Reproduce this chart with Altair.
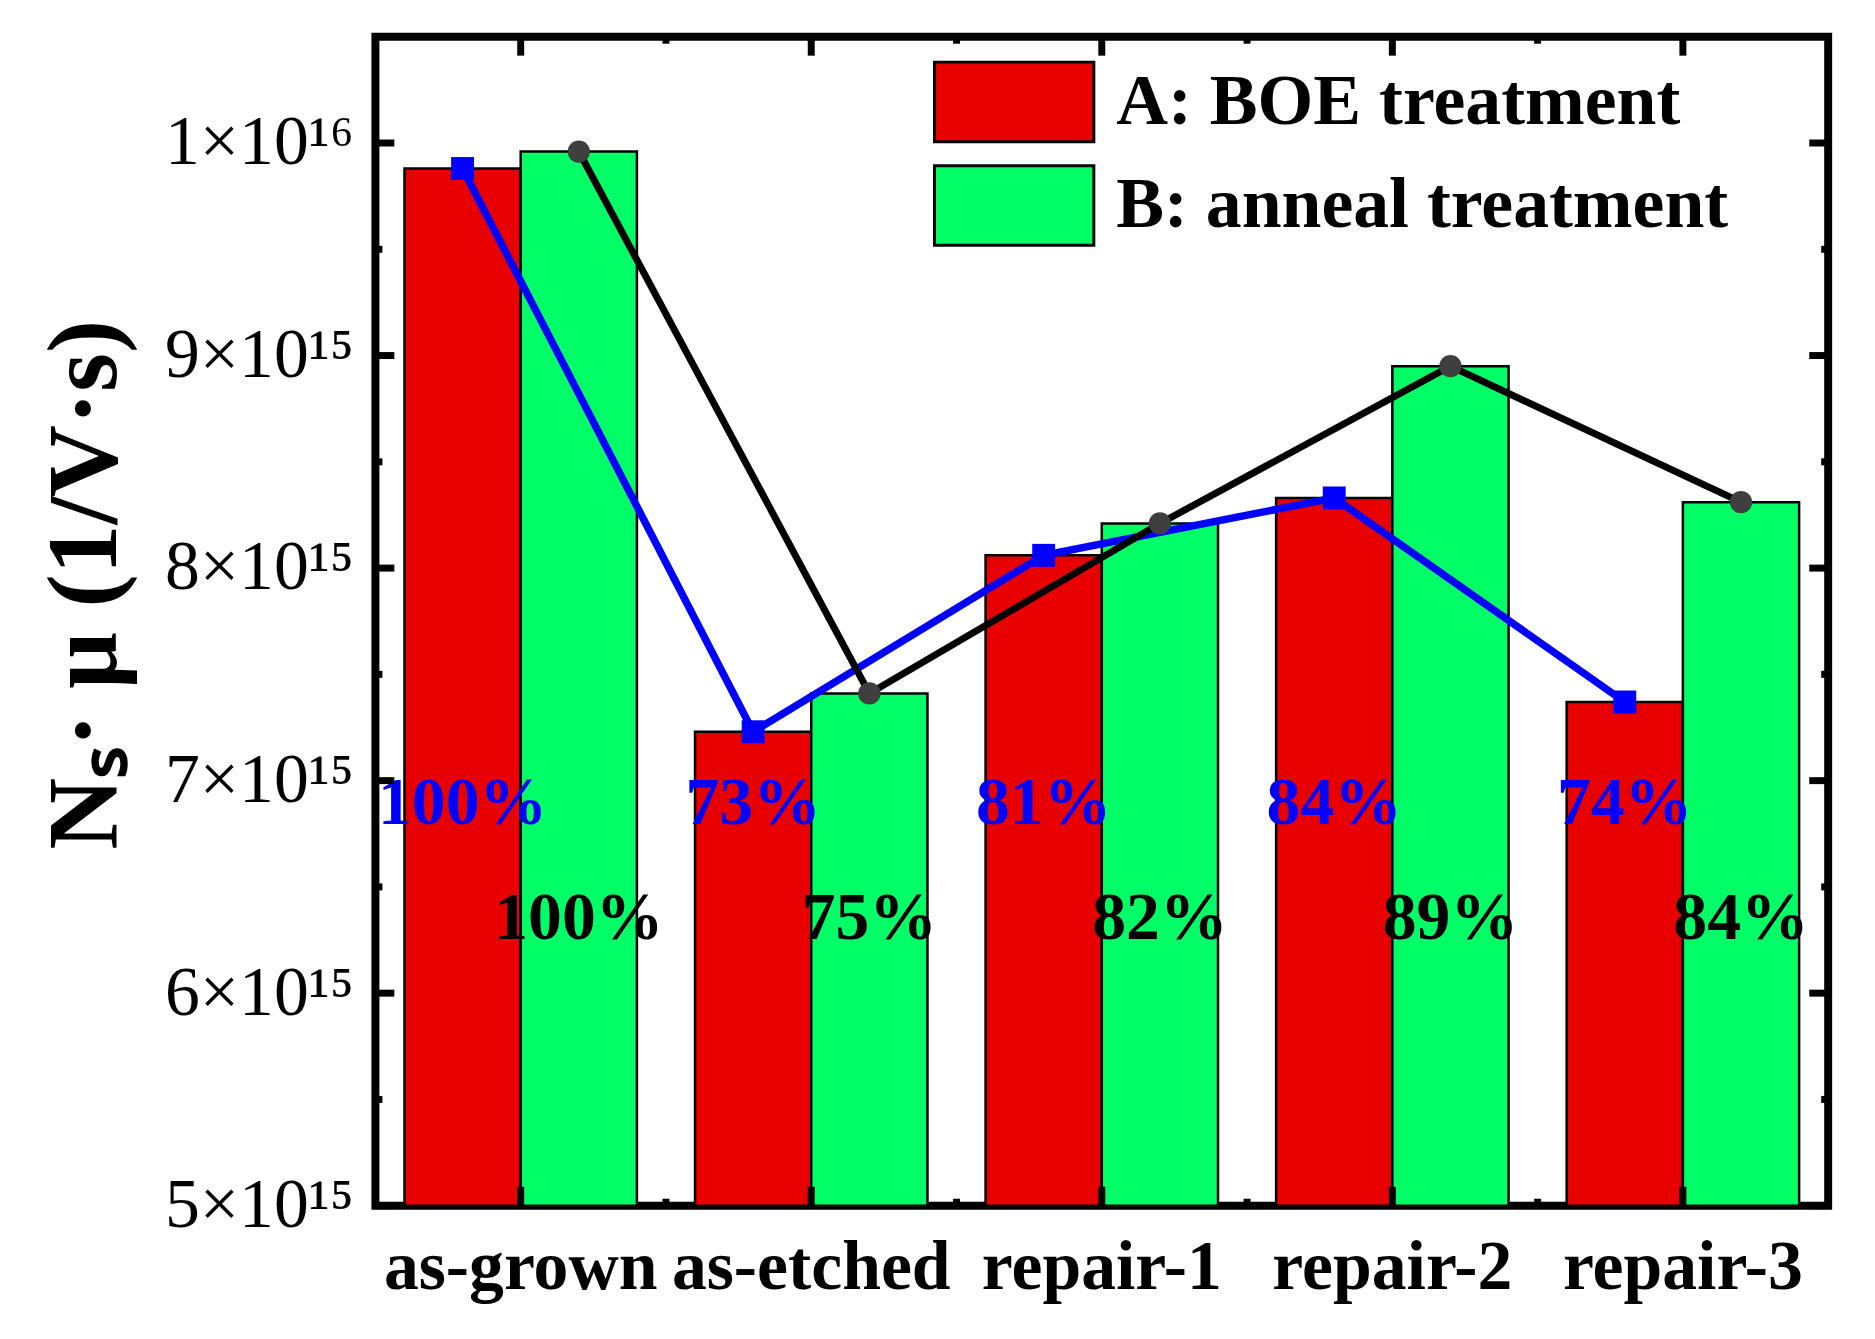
import altair as alt
import pandas as pd

# values
stages = ["as-grown", "as-etched", "repair-1", "repair-2", "repair-3"]
boe_vals = [9.88e15, 7.23e15, 8.06e15, 8.33e15, 7.37e15]
anneal_vals = [9.96e15, 7.41e15, 8.21e15, 8.95e15, 8.31e15]
boe_pct = ["100%", "73%", "81%", "84%", "74%"]
anneal_pct = ["100%", "75%", "82%", "89%", "84%"]
series = ["A: BOE treatment", "B: anneal treatment"]
bar_colors = ["#E80000", "#00FF66"]
major_y = [5e15, 6e15, 7e15, 8e15, 9e15, 1e16]
minor_y = [5.5e15, 6.5e15, 7.5e15, 8.5e15, 9.5e15]

W, H = 1459, 1174
FONT = "Liberation Serif"

bars = pd.DataFrame({
    "stage": stages * 2,
    "series": [series[0]] * 5 + [series[1]] * 5,
    "value": boe_vals + anneal_vals,
})
boe = pd.DataFrame({"stage": stages, "value": boe_vals, "pct": boe_pct})
anneal = pd.DataFrame({"stage": stages, "value": anneal_vals, "pct": anneal_pct})
ymaj = pd.DataFrame({"v": major_y})
ymin = pd.DataFrame({"v": minor_y})
xmaj = pd.DataFrame({"stage": stages})
xmin = pd.DataFrame({"stage": stages[1:]})

xscale = alt.Scale(domain=stages, paddingInner=0, paddingOuter=0)
yscale = alt.Scale(domain=[5e15, 1.05e16], nice=False, zero=False)

xaxis = alt.Axis(title=None, domain=False, ticks=False, labelFontSize=70,
                 labelFontWeight="bold", labelPadding=28, labelColor="black",
                 labelAngle=0, labelLimit=0, labelOverlap=False)
yaxis = alt.Axis(
    title="Nₛ· μ (1/V·s)", values=major_y, domain=False, ticks=False, grid=False,
    labelExpr="datum.value >= 1e16 ? '1×10¹⁶' : format(datum.value / 1e15, 'd') + '×10¹⁵'",
    labelFontSize=70, labelPadding=22, labelColor="black", labelLimit=0,
    labelOverlap=False,
    titleFontSize=100, titleFontWeight="bold", titlePadding=40, titleColor="black",
    titleY=550,
)

bar_layer = alt.Chart(bars).mark_bar(stroke="black", strokeWidth=2.5).encode(
    x=alt.X("stage:N", scale=xscale, axis=xaxis, sort=stages),
    xOffset=alt.XOffset("series:N", scale=alt.Scale(domain=series, paddingInner=0, paddingOuter=0.25)),
    y=alt.Y("value:Q", scale=yscale, axis=yaxis),
    y2=alt.datum(5e15),
    color=alt.Color("series:N", scale=alt.Scale(domain=series, range=bar_colors),
                    legend=alt.Legend(
                        title=None, orient="none", legendX=600, legendY=24,
                        symbolType="M-2,-1H2V1H-2Z", symbolSize=6400,
                        symbolStrokeColor="black", symbolStrokeWidth=3, symbolOpacity=1,
                        labelFontSize=72, labelFontWeight="bold", labelFont=FONT,
                        labelOffset=61, labelLimit=1000, rowPadding=11, padding=0,
                        labelColor="black")),
)

blue_line = alt.Chart(boe).mark_line(color="#0000FF", strokeWidth=7.5).encode(
    x=alt.X("stage:N", scale=xscale, bandPosition=0.3, sort=stages),
    y=alt.Y("value:Q", scale=yscale),
)
blue_pts = alt.Chart(boe).mark_point(shape="square", filled=True, color="#0000FF",
                                     size=530, opacity=1).encode(
    x=alt.X("stage:N", scale=xscale, bandPosition=0.3, sort=stages),
    y=alt.Y("value:Q", scale=yscale),
)
black_line = alt.Chart(anneal).mark_line(color="black", strokeWidth=7).encode(
    x=alt.X("stage:N", scale=xscale, bandPosition=0.7, sort=stages),
    y=alt.Y("value:Q", scale=yscale),
)
black_pts = alt.Chart(anneal).mark_point(shape="circle", filled=True, color="#3F3F3F",
                                         size=500, opacity=1).encode(
    x=alt.X("stage:N", scale=xscale, bandPosition=0.7, sort=stages),
    y=alt.Y("value:Q", scale=yscale),
)

blue_txt = alt.Chart(boe).mark_text(font=FONT, fontSize=68, fontWeight="bold",
                                    color="#0000FF", baseline="middle").encode(
    x=alt.X("stage:N", scale=xscale, bandPosition=0.3, sort=stages),
    y=alt.datum(6.89e15),
    text="pct:N",
)
black_txt = alt.Chart(anneal).mark_text(font=FONT, fontSize=68, fontWeight="bold",
                                        color="black", baseline="middle").encode(
    x=alt.X("stage:N", scale=xscale, bandPosition=0.7, sort=stages),
    y=alt.datum(6.35e15),
    text="pct:N",
)

# inward ticks on all four sides
def yticks(df, length, width):
    left = alt.Chart(df).mark_rule(color="black", strokeWidth=width).encode(
        y=alt.Y("v:Q", scale=yscale), x=alt.value(0), x2=alt.value(length))
    right = alt.Chart(df).mark_rule(color="black", strokeWidth=width).encode(
        y=alt.Y("v:Q", scale=yscale), x=alt.value(W - length), x2=alt.value(W))
    return left + right

def xticks(df, length, width, band):
    bottom = alt.Chart(df).mark_rule(color="black", strokeWidth=width).encode(
        x=alt.X("stage:N", scale=xscale, bandPosition=band, sort=stages),
        y=alt.value(H), y2=alt.value(H - length))
    top = alt.Chart(df).mark_rule(color="black", strokeWidth=width).encode(
        x=alt.X("stage:N", scale=xscale, bandPosition=band, sort=stages),
        y=alt.value(0), y2=alt.value(length))
    return bottom + top

chart = alt.layer(
    bar_layer, blue_line, blue_pts, black_line, black_pts, blue_txt, black_txt,
    yticks(ymaj, 19, 7), yticks(ymin, 7, 7),
    xticks(xmaj, 19, 7, 0.5), xticks(xmin, 7, 7, 0),
).properties(
    width=W, height=H,
    autosize=alt.AutoSizeParams(type="none"),
    padding={"left": 369, "top": 26, "right": 39, "bottom": 131},
).configure(font=FONT).configure_view(
    stroke="black", strokeWidth=8
).configure_axis(labelFont=FONT, titleFont=FONT)

chart.save("out.html", embed_options={"renderer": "svg", "actions": False})
